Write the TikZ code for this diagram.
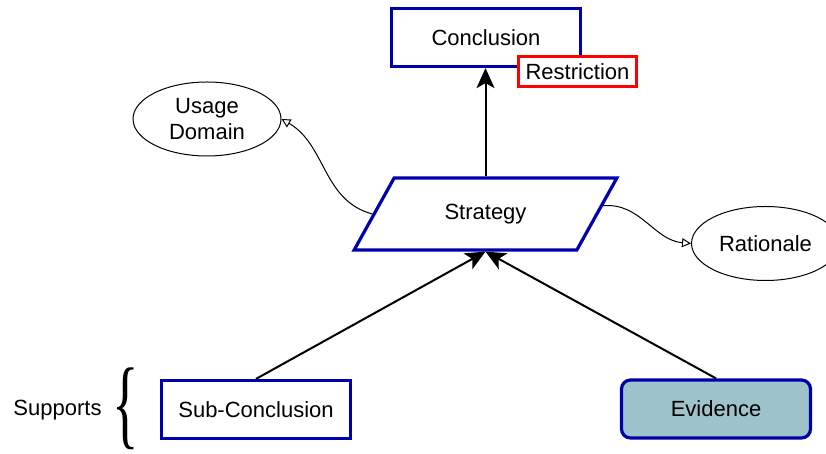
\documentclass[tikz,border=0pt]{standalone}
\usepackage{fontspec}
\setmainfont{Liberation Sans}
\newfontfamily\bracefont{Liberation Serif}
\usetikzlibrary{shapes.geometric,arrows.meta,calc}
\definecolor{gsnblue}{RGB}{0,0,170}
\definecolor{gsnteal}{RGB}{158,195,203}
\tikzset{
  goalbox/.style={draw=gsnblue,line width=1.6pt,fill=white,minimum width=94.5pt,minimum height=29pt,inner sep=0pt},
  restrictbox/.style={draw=red,line width=1.5pt,fill=white,minimum width=59pt,minimum height=15pt,inner sep=0pt},
  contextell/.style={draw,ellipse,line width=0.5pt,minimum width=74pt,minimum height=37pt,inner sep=0pt,align=center},
  strategybox/.style={draw=gsnblue,line width=1.6pt,trapezium,trapezium left angle=48,trapezium right angle=132,trapezium stretches=true,minimum width=132pt,minimum height=36pt,inner sep=0pt},
  evidencebox/.style={goalbox,rounded corners=4.5pt,fill=gsnteal},
  supportarrow/.style={line width=1pt,-{Stealth[length=10pt,width=9pt,inset=2.5pt]}},
  contextarrow/.style={line width=0.5pt,-{Triangle[open,length=4.5pt,width=4.5pt]}}
}
\begin{document}
\begin{tikzpicture}[x=0.5pt,y=0.5pt,font=\fontsize{11}{13}\selectfont]
\useasboundingbox (0,0) rectangle (826,454);
\node[goalbox] (concl) at (486,416.5) {Conclusion};
\node[restrictbox] (restr) at (577.5,382.5) {Restriction};
\node[contextell] (usage) at (207,335) {Usage\\Domain};
\node[strategybox] (strat) at (485.5,240) {Strategy};
\node[contextell] (rat) at (765.5,210.5) {Rationale};
\node[goalbox] (subc) at (256,44.5) {Sub-Conclusion};
\node[evidencebox] (evid) at (716,45) {Evidence};
\node (supports) at (57.5,44) {Supports};
\node[inner sep=0pt] (brace) at (125.5,45) {\scalebox{2.5}[4.5]{\bracefont\{}};

\draw[supportarrow] (strat.north) -- (strat.north |- concl.south) ;
\draw[supportarrow] (subc.north) -- (strat.south) ;
\draw[supportarrow] (evid.north) -- (strat.south) ;

\draw[contextarrow] (strat.west) to[out=165,in=-30] (usage.east) ;
\draw[contextarrow] ($(strat.top right corner)!0.39!(strat.bottom right corner)$) to[out=5,in=175] (rat.west) ;
\end{tikzpicture}
\end{document}
